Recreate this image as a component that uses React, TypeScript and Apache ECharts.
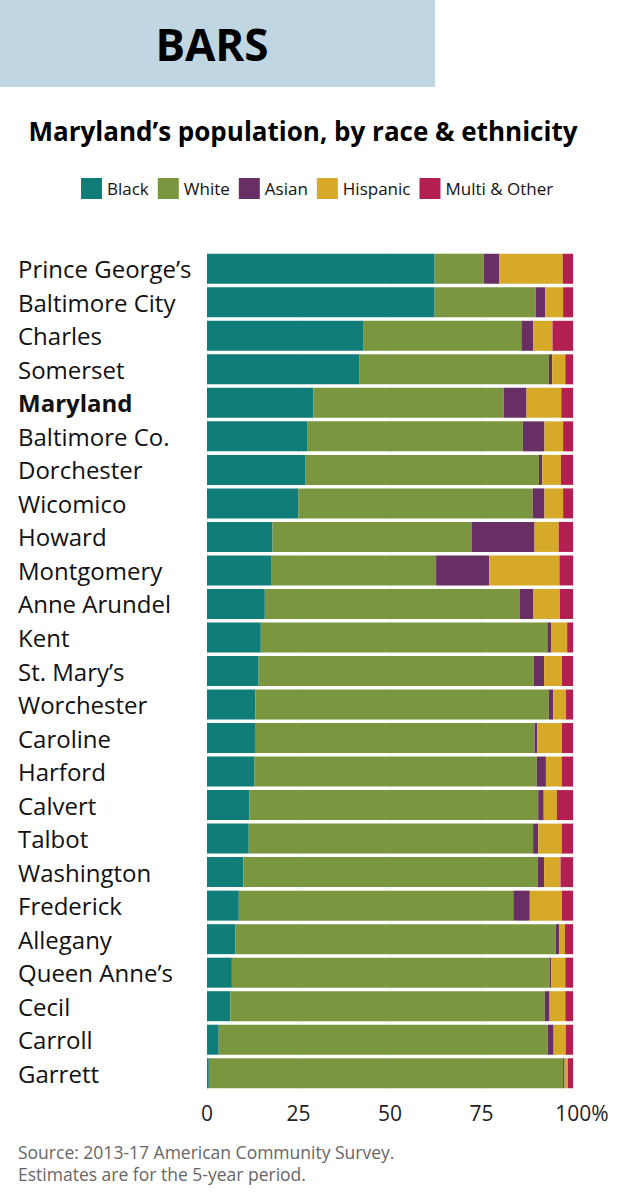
import React, { useEffect, useRef } from "react";
import * as echarts from "echarts";

const counties = [
  "Prince George’s", "Baltimore City", "Charles", "Somerset", "Maryland",
  "Baltimore Co.", "Dorchester", "Wicomico", "Howard", "Montgomery",
  "Anne Arundel", "Kent", "St. Mary’s", "Worchester", "Caroline",
  "Harford", "Calvert", "Talbot", "Washington", "Frederick",
  "Allegany", "Queen Anne’s", "Cecil", "Carroll", "Garrett",
];

const black = [62.2, 62.2, 42.8, 41.7, 29.1, 27.5, 26.8, 25.0, 17.9, 17.5, 15.8, 14.7, 14.1, 13.2, 13.1, 13.0, 11.6, 11.4, 9.9, 8.7, 7.8, 6.8, 6.4, 3.2, 0.5];
const white = [13.4, 27.6, 43.1, 51.7, 52.0, 58.8, 63.9, 64.0, 54.4, 45.1, 69.7, 78.3, 75.2, 80.2, 76.4, 77.1, 78.9, 77.7, 80.5, 75.0, 87.5, 86.8, 85.9, 89.9, 96.8];
const asian = [4.2, 2.6, 3.2, 0.9, 6.2, 5.9, 0.9, 3.2, 17.2, 14.5, 3.7, 1.0, 2.8, 1.2, 0.7, 2.5, 1.5, 1.4, 1.7, 4.5, 0.9, 0.5, 1.3, 1.6, 0.4];
const hispanic = [17.4, 4.9, 5.3, 3.6, 9.5, 5.1, 5.1, 5.1, 6.6, 19.2, 7.2, 4.4, 4.9, 3.5, 6.8, 4.3, 3.6, 6.4, 4.5, 8.8, 1.6, 3.8, 4.3, 3.3, 0.9];
const multi = [2.8, 2.7, 5.6, 2.1, 3.2, 2.7, 3.3, 2.7, 3.9, 3.7, 3.6, 1.6, 3.0, 1.9, 3.0, 3.1, 4.4, 3.1, 3.4, 3.0, 2.2, 2.1, 2.1, 2.0, 1.4];

const seriesNames = ["Black", "White", "Asian", "Hispanic", "Multi & Other"];
const seriesColors = ["#117d79", "#7a973f", "#672f64", "#d7a929", "#b31f51"];
const xTicks = [0, 25, 50, 75, 100];

const FONT = "'Open Sans', 'Noto Sans', sans-serif";

export default function App() {
  const ref = useRef<HTMLDivElement>(null);
  useEffect(() => {
    if (!ref.current) return;
    const chart = echarts.init(ref.current, undefined, { renderer: "svg" });
    const values = [black, white, asian, hispanic, multi];
    chart.setOption({
      animation: false,
      backgroundColor: "#ffffff",
      textStyle: { fontFamily: FONT },
      graphic: [
        { type: "rect", shape: { x: 0, y: 0, width: 435, height: 87 }, style: { fill: "#c0d6e2" }, silent: true },
        { type: "text", x: 212, y: 44, style: { text: "BARS", font: `bold 44px ${FONT}`, fill: "#000", textAlign: "center", textVerticalAlign: "middle" } },
        { type: "text", x: 303, y: 131, style: { text: "Maryland’s population, by race & ethnicity", font: `bold 26px ${FONT}`, fill: "#000", textAlign: "center", textVerticalAlign: "middle" } },
        { type: "text", x: 18, y: 1152, style: { text: "Source: 2013-17 American Community Survey.", font: `17.5px ${FONT}`, fill: "#666", textAlign: "left", textVerticalAlign: "middle" } },
        { type: "text", x: 18, y: 1174, style: { text: "Estimates are for the 5-year period.", font: `17.5px ${FONT}`, fill: "#666", textAlign: "left", textVerticalAlign: "middle" } },
      ],
      legend: {
        left: 81,
        top: 178,
        itemWidth: 21,
        itemHeight: 21,
        itemGap: 9,
        icon: "rect",
        padding: 0,
        textStyle: { fontSize: 17, color: "#111", fontFamily: FONT },
        data: seriesNames,
      },
      grid: { left: 207, right: 45, top: 252, bottom: 110, containLabel: false },
      xAxis: {
        type: "value",
        min: 0,
        max: 100,
        interval: 25,
        axisLine: { show: false },
        axisTick: { show: false },
        splitLine: { show: true, lineStyle: { color: "#eeeeee", width: 1 } },
        axisLabel: {
          margin: 12,
          fontSize: 21,
          color: "#222",
          fontFamily: FONT,
          formatter: (v: number) => (v === xTicks[xTicks.length - 1] ? "{pad| }" + v + "%" : String(v)),
          rich: { pad: { width: 18, fontSize: 21 } },
        },
      },
      yAxis: {
        type: "category",
        inverse: true,
        data: counties,
        axisLine: { show: false },
        axisTick: { show: false },
        axisLabel: {
          align: "left",
          margin: 189,
          fontSize: 24,
          color: "#111",
          fontFamily: FONT,
          formatter: (v: string) => (v === "Maryland" ? "{b|" + v + "}" : v),
          rich: { b: { fontWeight: "bold", fontSize: 24, color: "#111", fontFamily: FONT } },
        },
      },
      series: seriesNames.map((name, i) => ({
        name,
        type: "bar",
        stack: "total",
        barWidth: 30,
        itemStyle: { color: seriesColors[i] },
        data: values[i],
      })),
    });
    return () => chart.dispose();
  }, []);
  return <div ref={ref} style={{ position: "absolute", left: 0, top: 0, width: 618, height: 1200 }} />;
}
